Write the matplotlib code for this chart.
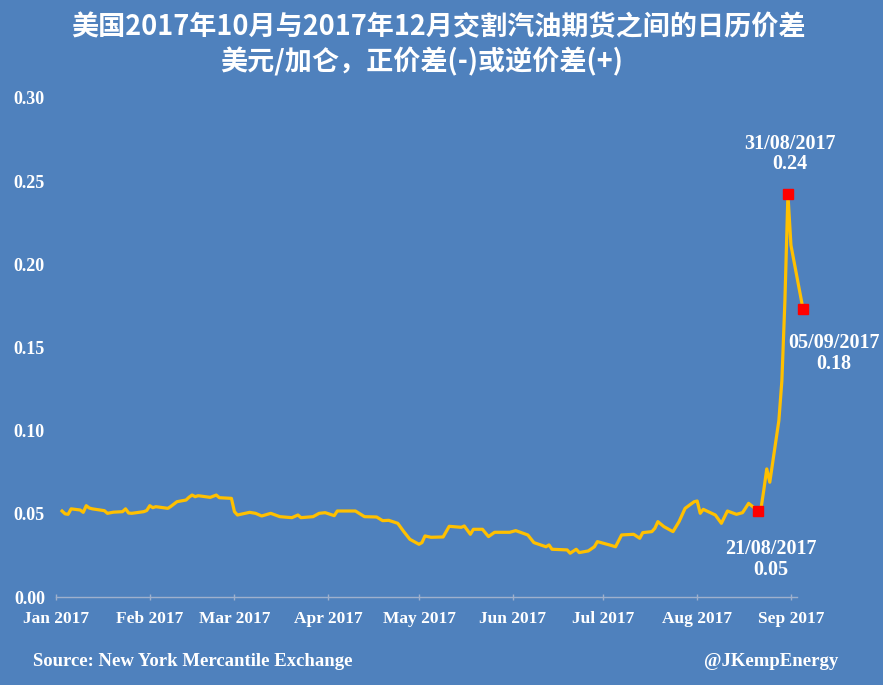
import matplotlib
matplotlib.use("Agg")
import matplotlib.pyplot as plt
import pandas as pd

# ---------------- data ----------------
dates = [
    "2017-01-03", "2017-01-04", "2017-01-05", "2017-01-06", "2017-01-09", "2017-01-10",
    "2017-01-11", "2017-01-12", "2017-01-13", "2017-01-17", "2017-01-18", "2017-01-20",
    "2017-01-23", "2017-01-24", "2017-01-25", "2017-01-26", "2017-01-30", "2017-01-31",
    "2017-02-01", "2017-02-02", "2017-02-03", "2017-02-07", "2017-02-08", "2017-02-10",
    "2017-02-13", "2017-02-14", "2017-02-15", "2017-02-16", "2017-02-17", "2017-02-21",
    "2017-02-23", "2017-02-24", "2017-02-28", "2017-03-01", "2017-03-02", "2017-03-06",
    "2017-03-08", "2017-03-10", "2017-03-13", "2017-03-16", "2017-03-20", "2017-03-22",
    "2017-03-23", "2017-03-27", "2017-03-29", "2017-03-31", "2017-04-03", "2017-04-04",
    "2017-04-07", "2017-04-10", "2017-04-13", "2017-04-17", "2017-04-19", "2017-04-21",
    "2017-04-24", "2017-04-26", "2017-04-28", "2017-05-01", "2017-05-02", "2017-05-03",
    "2017-05-05", "2017-05-09", "2017-05-11", "2017-05-15", "2017-05-16", "2017-05-18",
    "2017-05-19", "2017-05-22", "2017-05-24", "2017-05-26", "2017-05-31", "2017-06-02",
    "2017-06-06", "2017-06-08", "2017-06-12", "2017-06-13", "2017-06-14", "2017-06-19",
    "2017-06-20", "2017-06-22", "2017-06-23", "2017-06-26", "2017-06-28", "2017-06-29",
    "2017-07-03", "2017-07-05", "2017-07-07", "2017-07-11", "2017-07-13", "2017-07-14",
    "2017-07-17", "2017-07-18", "2017-07-19", "2017-07-21", "2017-07-24", "2017-07-26",
    "2017-07-28", "2017-07-31", "2017-08-01", "2017-08-02", "2017-08-03", "2017-08-07",
    "2017-08-09", "2017-08-11", "2017-08-14", "2017-08-16", "2017-08-18", "2017-08-21",
    "2017-08-22", "2017-08-23", "2017-08-24", "2017-08-25", "2017-08-28", "2017-08-29",
    "2017-08-30", "2017-08-31", "2017-09-01", "2017-09-05",
]
spread = [
    0.0517, 0.0500, 0.0497, 0.0530, 0.0523, 0.0509,
    0.0549, 0.0535, 0.0530, 0.0519, 0.0503, 0.0510,
    0.0513, 0.0530, 0.0505, 0.0503, 0.0513, 0.0520,
    0.0549, 0.0537, 0.0543, 0.0533, 0.0545, 0.0573,
    0.0583, 0.0600, 0.0613, 0.0603, 0.0609, 0.0599,
    0.0613, 0.0597, 0.0593, 0.0513, 0.0493, 0.0509,
    0.0503, 0.0487, 0.0503, 0.0483, 0.0477, 0.0493,
    0.0477, 0.0483, 0.0503, 0.0507, 0.0489, 0.0517,
    0.0517, 0.0517, 0.0483, 0.0481, 0.0459, 0.0461,
    0.0443, 0.0393, 0.0347, 0.0317, 0.0327, 0.0367,
    0.0359, 0.0361, 0.0425, 0.0419, 0.0427, 0.0377,
    0.0407, 0.0407, 0.0363, 0.0389, 0.0389, 0.0399,
    0.0373, 0.0327, 0.0302, 0.0313, 0.0287, 0.0283,
    0.0263, 0.0287, 0.0267, 0.0277, 0.0302, 0.0333,
    0.0313, 0.0302, 0.0373, 0.0377, 0.0353, 0.0387,
    0.0393, 0.0413, 0.0453, 0.0423, 0.0393, 0.0453,
    0.0533, 0.0573, 0.0577, 0.0503, 0.0527, 0.0493,
    0.0443, 0.0517, 0.0497, 0.0507, 0.0563, 0.0520,
    0.0520, 0.0640, 0.0770, 0.0690, 0.1060, 0.1300,
    0.1780, 0.2420, 0.2115, 0.1730,
]

highlight_dates = ["2017-08-21", "2017-08-31", "2017-09-05"]
highlight_labels = ["21/08/2017\n0.05", "31/08/2017\n0.24", "05/09/2017\n0.18"]

month_ticks = ["2017-01-01", "2017-02-01", "2017-03-01", "2017-04-01", "2017-05-01",
               "2017-06-01", "2017-07-01", "2017-08-01", "2017-09-01"]
month_labels = ["Jan 2017", "Feb 2017", "Mar 2017", "Apr 2017", "May 2017",
                "Jun 2017", "Jul 2017", "Aug 2017", "Sep 2017"]
y_ticks = [0.00, 0.05, 0.10, 0.15, 0.20, 0.25, 0.30]

title1 = "美国2017年10月与2017年12月交割汽油期货之间的日历价差"
title2 = "美元/加仑，正价差(-)或逆价差(+)"
source = "Source: New York Mercantile Exchange"
credit = "@JKempEnergy"

# ---------------- style ----------------
BG = "#4F81BD"
LINE = "#FFC000"
WHITE = "#FFFFFF"
SERIF = "Liberation Serif"
CJK = ["Noto Sans CJK SC", "DejaVu Sans"]

W, H = 883, 685
fig = plt.figure(figsize=(W / 100, H / 100), dpi=100, facecolor=BG)
ax = fig.add_axes([56 / W, 1 - 597 / H, 741 / W, (597 - 98) / H])
ax.set_facecolor(BG)

x = pd.to_datetime(dates)
ax.plot(x, spread, color=LINE, lw=2.3, solid_joinstyle="round", clip_on=False, zorder=3)

s = pd.Series(spread, index=x)
hx = pd.to_datetime(highlight_dates)
hy = [s[d] for d in hx]
ax.plot(hx, hy, ls="none", marker="s", ms=7.5, color="#FF0000", mec="#FF0000",
        clip_on=False, zorder=4)

offsets = [(9.4, -35.3), (1.4, 29.2), (22.3, -32.0)]
for d, v, lab, off in zip(hx, hy, highlight_labels, offsets):
    ax.annotate(lab, xy=(d, v), xytext=off, textcoords="offset points",
                ha="center", va="center", color=WHITE, fontsize=14.5,
                fontfamily=SERIF, fontweight="bold", linespacing=1.05,
                annotation_clip=False)

ax.set_xlim(pd.Timestamp("2017-01-01"), pd.Timestamp("2017-09-03"))
ax.set_ylim(0, 0.30)

ax.set_xticks(pd.to_datetime(month_ticks))
ax.set_xticklabels(month_labels)
ax.set_yticks(y_ticks)
ax.set_yticklabels([f"{v:.2f}" for v in y_ticks])

for sp in ["top", "right", "left"]:
    ax.spines[sp].set_visible(False)
ax.spines["bottom"].set_color("#9FB0CC")
ax.spines["bottom"].set_linewidth(1.0)

ax.tick_params(axis="x", colors="#9FB0CC", direction="inout", length=4, width=1,
               pad=8, labelcolor=WHITE)
ax.tick_params(axis="y", length=0, pad=8, labelcolor=WHITE)
for lab in ax.get_xticklabels():
    lab.set_fontfamily(SERIF)
    lab.set_fontweight("bold")
    lab.set_fontsize(12.5)
for lab in ax.get_yticklabels():
    lab.set_fontfamily(SERIF)
    lab.set_fontweight("bold")
    lab.set_fontsize(13)

fig.text(438 / W, 1 - 27 / H, title1, ha="center", va="center", color=WHITE,
         fontsize=19.5, fontweight="bold", family=CJK)
fig.text(422 / W, 1 - 62 / H, title2, ha="center", va="center", color=WHITE,
         fontsize=19.5, fontweight="bold", family=CJK)

fig.text(33 / W, 1 - 661 / H, source, ha="left", va="center", color=WHITE,
         fontsize=13.5, fontfamily=SERIF, fontweight="bold")
fig.text(838 / W, 1 - 661 / H, credit, ha="right", va="center", color=WHITE,
         fontsize=13.5, fontfamily=SERIF, fontweight="bold")

fig.savefig("out.png", dpi=100, facecolor=BG)
